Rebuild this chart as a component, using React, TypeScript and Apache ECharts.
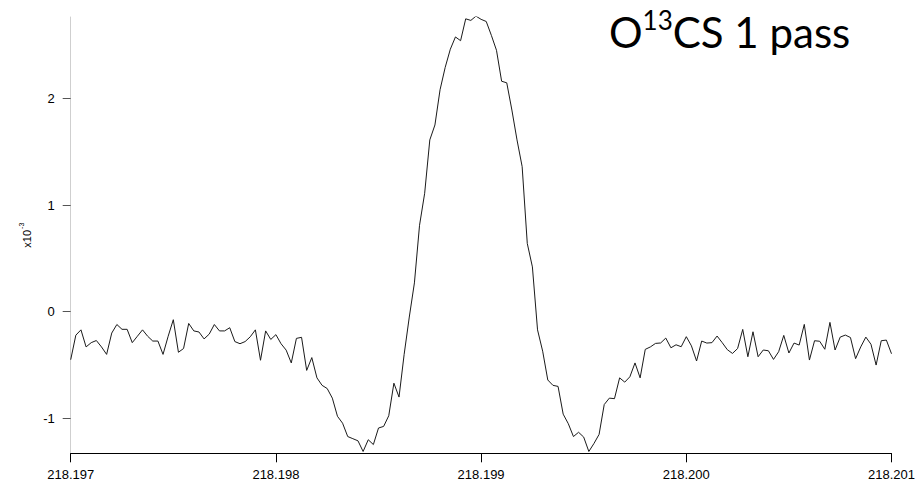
import React, { useEffect, useRef } from "react";
import * as echarts from "echarts";

// Frequency grid (GHz): first sample and spacing between samples
const FREQ_START = 218.197;
const FREQ_STEP = 0.000025;

// Signal in units of 1e-3, one value per sample
const SIGNAL = [
  -0.45, -0.22, -0.17, -0.33, -0.29, -0.27, -0.33, -0.40, -0.20, -0.12,
  -0.165, -0.165, -0.29, -0.23, -0.17, -0.23, -0.275, -0.275, -0.40, -0.23,
  -0.075, -0.38, -0.345, -0.11, -0.18, -0.19, -0.255, -0.21, -0.12, -0.18,
  -0.18, -0.15, -0.28, -0.30, -0.28, -0.235, -0.17, -0.455, -0.18, -0.26,
  -0.215, -0.30, -0.36, -0.48, -0.25, -0.24, -0.55, -0.43, -0.62, -0.69,
  -0.72, -0.81, -0.98, -1.045, -1.17, -1.19, -1.21, -1.31, -1.20, -1.245,
  -1.09, -1.075, -0.975, -0.67, -0.80, -0.40, -0.05, 0.27, 0.81, 1.11,
  1.61, 1.75, 2.08, 2.29, 2.46, 2.575, 2.54, 2.745, 2.73, 2.77,
  2.74, 2.72, 2.59, 2.45, 2.16, 2.145, 1.89, 1.61, 1.36, 0.64,
  0.42, -0.17, -0.37, -0.64, -0.69, -0.70, -0.96, -1.05, -1.17, -1.13,
  -1.175, -1.31, -1.235, -1.15, -0.87, -0.81, -0.815, -0.62, -0.66, -0.61,
  -0.48, -0.62, -0.353, -0.33, -0.297, -0.293, -0.247, -0.338, -0.31, -0.328,
  -0.234, -0.32, -0.462, -0.275, -0.294, -0.29, -0.228, -0.29, -0.356, -0.391,
  -0.345, -0.166, -0.422, -0.188, -0.422, -0.359, -0.366, -0.447, -0.375, -0.222,
  -0.387, -0.294, -0.3125, -0.119, -0.453, -0.272, -0.277, -0.352, -0.10, -0.359,
  -0.238, -0.219, -0.242, -0.44, -0.33, -0.238, -0.305, -0.50, -0.272, -0.266,
  -0.394,
];

const X_TICKS = [218.197, 218.198, 218.199, 218.2, 218.201];
const Y_TICKS = [-1, 0, 1, 2];
const X_RANGE = [218.197, 218.201];
const Y_RANGE = [-1.327, 2.762];

const TITLE_MAIN = "O";
const TITLE_SUP = "13";
const TITLE_REST = "CS 1 pass";
const Y_NAME_BASE = "x10";
const Y_NAME_EXP = "-3";

export default function App() {
  const ref = useRef<HTMLDivElement>(null);

  useEffect(() => {
    if (!ref.current) return;
    const chart = echarts.init(ref.current, null, { renderer: "svg" });
    const data = SIGNAL.map((v, i) => [
      +(FREQ_START + i * FREQ_STEP).toFixed(6),
      v,
    ]);
    const labelFont = "Liberation Sans";
    chart.setOption({
      animation: false,
      grid: { left: 70.7, right: 24.4, top: 17, bottom: 31.7, containLabel: false },
      xAxis: {
        type: "value",
        min: X_RANGE[0],
        max: X_RANGE[1],
        axisLine: { show: true, onZero: false, lineStyle: { color: "#000", width: 1 } },
        axisTick: { show: true, customValues: X_TICKS, length: 9, lineStyle: { color: "#000", width: 1 } },
        axisLabel: {
          customValues: X_TICKS,
          formatter: (v: number) => v.toFixed(3),
          margin: 15,
          fontSize: 13,
          color: "#000",
          fontFamily: labelFont,
        },
        splitLine: { show: false },
      },
      yAxis: {
        type: "value",
        min: Y_RANGE[0],
        max: Y_RANGE[1],
        axisLine: { show: true, lineStyle: { color: "#cfcfcf", width: 1 } },
        axisTick: { show: true, customValues: Y_TICKS, length: 8, lineStyle: { color: "#555", width: 1 } },
        axisLabel: { customValues: Y_TICKS, margin: 16, fontSize: 13, color: "#000", fontFamily: labelFont },
        splitLine: { show: false },
        name: `{a|${Y_NAME_BASE}}{b|${Y_NAME_EXP}}`,
        nameLocation: "middle",
        nameRotate: 90,
        nameGap: 37,
        nameTextStyle: {
          rich: {
            a: { fontSize: 11, fontFamily: labelFont, color: "#000", lineHeight: 14, verticalAlign: "bottom" },
            b: { fontSize: 7, fontFamily: labelFont, color: "#000", lineHeight: 14, verticalAlign: "top", padding: [0, 0, 0, 1] },
          },
        },
      },
      series: [
        {
          type: "line",
          data,
          symbol: "none",
          showSymbol: false,
          silent: true,
          lineStyle: { color: "#1a1a1a", width: 1 },
        },
      ],
      graphic: [
        {
          type: "text",
          left: 609,
          top: 3,
          silent: true,
          style: {
            text: `{n|${TITLE_MAIN}}{s|${TITLE_SUP}}{n|${TITLE_REST}}`,
            rich: {
              n: { fontSize: 42, fontFamily: "Lato", fill: "#000", lineHeight: 50, verticalAlign: "bottom" },
              s: { fontSize: 26, fontFamily: "Lato", fill: "#000", lineHeight: 50, verticalAlign: "top", padding: [4, 0, 0, 0] },
            },
          },
        },
      ],
    });
    return () => chart.dispose();
  }, []);

  return (
    <div
      ref={ref}
      style={{ position: "absolute", left: 0, top: 0, width: 918, height: 485 }}
    />
  );
}
